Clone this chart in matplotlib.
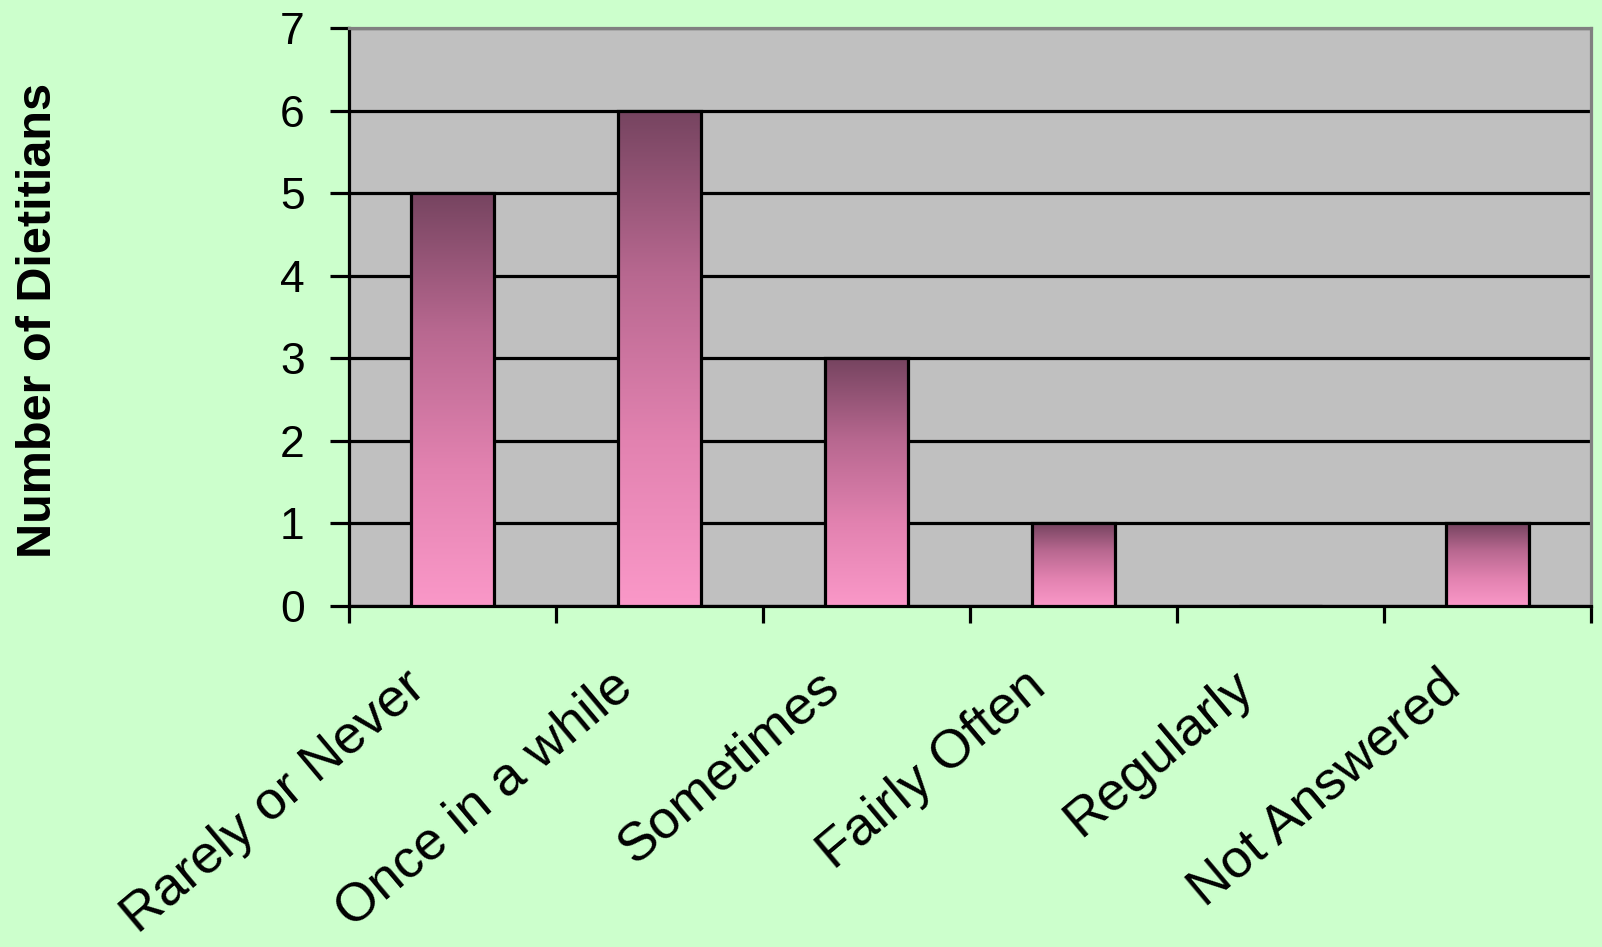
import matplotlib.pyplot as plt
import matplotlib.transforms as mtransforms
import numpy as np
from matplotlib.colors import LinearSegmentedColormap

categories = ["Rarely or Never", "Once in a while", "Sometimes",
              "Fairly Often", "Regularly", "Not Answered"]
counts = [5, 6, 3, 1, 0, 1]
y_ticks = [0, 1, 2, 3, 4, 5, 6, 7]

plt.rcParams['font.family'] = ['Liberation Sans', 'DejaVu Sans']

fig = plt.figure(figsize=(16.02, 9.47), dpi=100, facecolor='#ccffcc')
ax = fig.add_axes([0.2179, 0.3601, 0.9931 - 0.2179, 0.9704 - 0.3601])
ax.set_facecolor('#c0c0c0')

# pink-to-plum gradient used to fill each bar, bottom to top
cmap = LinearSegmentedColormap.from_list(
    'bar_fade', ['#fa98c8', '#e282b0', '#b86890', '#764460'])
grad = np.linspace(0, 1, 256).reshape(-1, 1)

x = np.arange(len(categories))
width = 0.40
bars = ax.bar(x, counts, width=width, facecolor='none',
              edgecolor='black', linewidth=2.3, zorder=4)
for rect in bars:
    h = rect.get_height()
    if h <= 0:
        continue
    x0 = rect.get_x()
    ax.imshow(grad, cmap=cmap, origin='lower', aspect='auto',
              extent=[x0, x0 + rect.get_width(), 0, h], zorder=3)

ax.set_xlim(-0.5, len(categories) - 0.5)
ax.set_ylim(0, 7)

# horizontal gridlines
ax.set_yticks(y_ticks)
ax.yaxis.grid(True, color='black', linewidth=2.3, zorder=1)
ax.set_axisbelow(True)

ax.tick_params(axis='y', direction='out', length=14, width=2.3,
               labelsize=32, pad=18)

# category labels at centres, tick marks at the boundaries
ax.set_xticks(x)
ax.set_xticklabels(categories, rotation=40, ha='right', va='baseline',
                   rotation_mode='anchor', fontsize=39)
ax.tick_params(axis='x', which='major', length=0, pad=61)
shift = mtransforms.ScaledTranslation(-0.25, 0, fig.dpi_scale_trans)
for lbl in ax.get_xticklabels():
    lbl.set_transform(lbl.get_transform() + shift)
ax.set_xticks(np.arange(-0.5, len(categories)), minor=True)
ax.tick_params(axis='x', which='minor', direction='out', length=12, width=2.3)

ax.spines['left'].set_linewidth(2.3)
ax.spines['bottom'].set_linewidth(2.3)
ax.spines['top'].set_color('#808080')
ax.spines['right'].set_color('#808080')
ax.spines['top'].set_linewidth(2.3)
ax.spines['right'].set_linewidth(2.3)

fig.text(0.024, 0.662, "Number of Dietitians", rotation=90, fontsize=35,
         fontweight='bold', ha='center', va='center')

plt.savefig('out.png', dpi=100, facecolor=fig.get_facecolor())
